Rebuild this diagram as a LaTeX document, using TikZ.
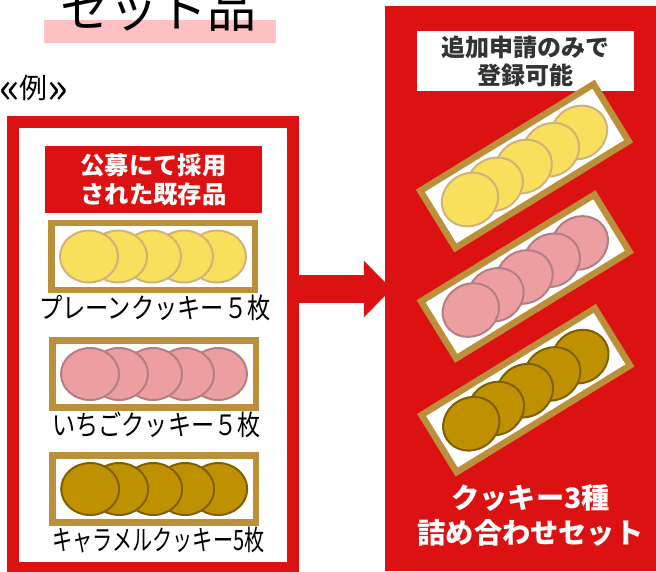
\documentclass[tikz,border=0pt]{standalone}
\usepackage{fontspec}
\setmainfont{Noto Sans CJK JP}
\usetikzlibrary{shapes.geometric,arrows.meta}
\definecolor{mred}{HTML}{DC1111}
\definecolor{mband}{HTML}{FFC0C3}
\definecolor{mgold}{HTML}{BC8F3A}
\definecolor{ylwF}{HTML}{F8DF5C}
\definecolor{ylwS}{HTML}{D0B27A}
\definecolor{pnkF}{HTML}{EC9EA0}
\definecolor{pnkS}{HTML}{B27F85}
\definecolor{crmF}{HTML}{BF9000}
\definecolor{crmS}{HTML}{7F6000}
\definecolor{mdark}{HTML}{333333}
\tikzset{
  x=1pt,y=-1pt,
  trayframe/.style={draw=mgold,fill=white,line width=6.5pt,inner sep=0pt,minimum width=203.5pt,minimum height=67pt},
  cookie/.style={ellipse,line width=2pt,inner sep=0pt,minimum width=58pt,minimum height=52pt},
  caption/.style={inner sep=0pt,font=\fontsize{28}{30}\selectfont,text=black},
  whitehead/.style={inner sep=0pt,align=center,text=white,font=\bfseries\fontsize{24.3}{29}\selectfont},
}
\newcommand{\cookietray}[6]{% name, x, y, angle, fill, stroke
  \begin{scope}[shift={(#2,#3)},rotate=#4,transform shape]
    \node[trayframe] (#1) at (0,0) {};
    \node[cookie,draw=#6,fill=#5] (#1e) at (64,0) {};
    \node[cookie,draw=#6,fill=#5] (#1d) at (31,0) {};
    \node[cookie,draw=#6,fill=#5] (#1c) at (-1,0) {};
    \node[cookie,draw=#6,fill=#5] (#1b) at (-35,0) {};
    \node[cookie,draw=#6,fill=#5] (#1a) at (-64,0) {};
  \end{scope}
}
\begin{document}
\begin{tikzpicture}
\useasboundingbox (0,0) rectangle (656,571);
\clip (0,0) rectangle (656,571);
\fill[white] (0,0) rectangle (656,571);
% title
\node[fill=mband,minimum width=232pt,minimum height=23pt,inner sep=0pt] (band) at (160,31.5) {};
\node[anchor=base,inner sep=0pt,font=\fontsize{49}{52}\selectfont] (title) at (158.5,27) {セット品};
\node[anchor=base west,inner sep=0pt,font=\fontsize{28}{30}\selectfont] (example) at (-1,98) {\raisebox{-5pt}{\scalebox{1.55}{«}}例\raisebox{-5pt}{\scalebox{1.55}{»}}};
% left frame
\node[draw=mred,line width=12pt,fill=white,minimum width=280.3pt,minimum height=446pt,inner sep=0pt] (frame) at (152.85,345) {};
\node[fill=mred,minimum width=217pt,minimum height=67pt,whitehead] (head) at (153.5,179.5) {公募にて採用\\された既存品};
\cookietray{trayA}{153}{256.5}{0}{ylwF}{ylwS}
\node[caption,anchor=center] (capA) at (155,308) {\scalebox{0.83}[1]{プレーンクッキー５枚}};
\cookietray{trayB}{154}{374}{0}{pnkF}{pnkS}
\node[caption,anchor=center] (capB) at (156.5,425) {\scalebox{0.825}[1]{いちごクッキー５枚}};
\cookietray{trayC}{154.2}{489}{0}{crmF}{crmS}
\node[caption,anchor=center] (capC) at (158.5,540) {\scalebox{0.72}[1]{キャラメルクッキー5枚}};
% right panel
\node[fill=mred,minimum width=271pt,minimum height=565pt,inner sep=0pt] (panel) at (520.5,288.5) {};
\node[fill=white,minimum width=217pt,minimum height=60pt,inner sep=0pt,align=center,text=mdark,font=\bfseries\fontsize{24}{28}\selectfont] (note) at (525.5,61) {追加申請のみで\\登録可能};
\cookietray{trayD}{524.5}{166}{31.6}{ylwF}{ylwS}
\cookietray{trayE}{525.3}{276.5}{31.6}{pnkF}{pnkS}
\cookietray{trayF}{525.8}{390.2}{31.6}{crmF}{crmS}
\node[inner sep=0pt,align=center,text=white,font=\bfseries\fontsize{28.2}{35.5}\selectfont] (setname) at (530.5,515.5) {クッキー3種\\詰め合わせセット};
% arrow
\coordinate (arrowstart) at (frame.east |- 0,289);
\draw[mred,line width=28pt,shorten >=-7pt,-{Triangle[length=28pt,width=55pt,sep=0pt]}] (arrowstart) -- (panel.west |- arrowstart);
\end{tikzpicture}
\end{document}
